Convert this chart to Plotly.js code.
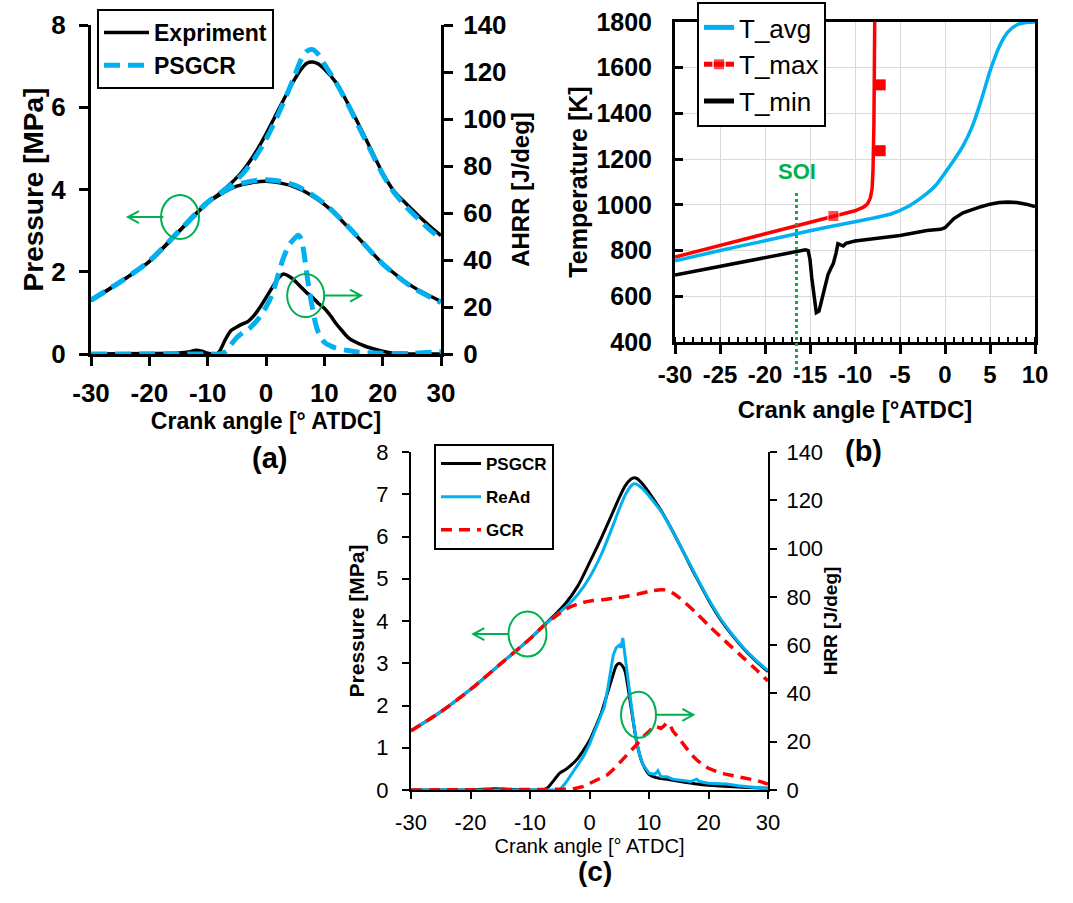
<!DOCTYPE html>
<html><head><meta charset="utf-8">
<script src="https://cdn.plot.ly/plotly-3.0.1.min.js"></script>
<style>html,body{margin:0;padding:0;background:#fff}#chart{width:1073px;height:903px}</style>
</head><body><div id="chart"></div>
<script>
// ---------- Panel (a): pressure [MPa] and AHRR [J/deg] ----------
const aMotAng  = [-30,-25,-20,-15,-10,-5,0,5,10,15,20,25,30];
const aExpMot  = [1.30,1.75,2.25,2.97,3.68,4.08,4.20,4.06,3.64,2.95,2.20,1.65,1.28];
const aSimMot  = [1.31,1.75,2.26,2.97,3.69,4.11,4.24,4.10,3.66,2.96,2.19,1.63,1.25];
const aFireAng = [-30,-25,-20,-15,-10,-8,-6,-4,-2,0,2,4,5,6,7,8,9,10,12,14,16,18,20,22,24,26,28,30];
const aExpFire = [1.30,1.75,2.25,2.97,3.68,3.90,4.15,4.45,4.85,5.35,5.90,6.45,6.70,6.92,7.07,7.10,7.05,6.93,6.60,6.10,5.55,4.97,4.40,3.95,3.66,3.38,3.12,2.88];
const aSimFire = [1.31,1.75,2.26,2.97,3.69,3.90,4.12,4.38,4.75,5.22,5.80,6.45,6.80,7.15,7.36,7.40,7.28,7.05,6.60,6.08,5.50,4.93,4.37,3.92,3.58,3.30,3.03,2.80];
const aExpHrrAng = [-30,-20,-15,-13,-12,-11,-10,-8.5,-8,-7,-6,-5,-4,-3,-2,-1,0,1,2,3,4,5,6,7,8,9,10,11,12,13,14,15,17,19,21,23,25,30];
const aExpHrr    = [0,0.2,0.4,1.0,1.6,1.2,0.3,0,1,6,10,11.5,12.8,14,16.5,20,24,28,32,34,33,31,28.5,26,24,21.5,19.5,16.5,13,10,7.2,5.5,3.3,1.8,0.6,0,0,0];
const aSimHrrAng = [-30,-10,-8,-7,-6,-5,-4,-3,-2,-1,0,1,2,3,4,5,5.5,6,6.5,7,7.5,8,8.5,9,10,11,12,14,16,20,25,30];
const aSimHrr    = [0,0,0,1,4,7,9,10.5,13,16,20,25,33,41,46.5,49.5,50.5,49,43,34,26,19,13,9,5,3.5,2.5,1.5,0.8,0.3,0.3,1];
const angTickVals = [-30,-20,-10,0,10,20,30];
const angTickText = ['-30','-20','-10','0','10','20','30'];

// ---------- Panel (b): temperatures [K] ----------
const bAvgAng = [-30,-25,-20,-15,-10,-8,-6,-4,-2,-1,0,1,2,3,4,5,6,7,8,9,10];
const bTavg   = [755,800,843,887,926,942,960,995,1050,1087,1140,1196,1258,1340,1455,1585,1690,1757,1788,1798,1800];
const bMaxAng = [-30,-20,-12.4,-10,-9,-8.6,-8.3,-8.1,-8.0,-7.9,-7.8];
const bTmax   = [772,874,951,974,991,1005,1030,1070,1150,1350,1850];
const bMaxMarkIdx = [2];
const bMaxMarkAng = [-7.2,-7.2];
const bMaxMarkT   = [1525,1237];
const bMinAng = [-30,-25,-20,-16,-15.5,-15.2,-15,-14.8,-14.5,-14.3,-14,-13.5,-13,-12.7,-12.4,-12.1,-11.9,-11.6,-11.3,-11,-10,-5,-2,-0.5,0,0.5,1,2,3,4,5,6,7,8,9,10];
const bTmin   = [693,730,768,798,803,800,760,680,580,528,535,610,695,720,745,790,830,825,820,832,842,866,888,893,900,920,940,965,980,992,1003,1010,1012,1010,1003,993];
const bTickVals = [-30,-25,-20,-15,-10,-5,0,5,10];
const bTickText = ['-30','-25','-20','-15','-10','-5','0','5','10'];
const bSOI = -16.5;

// ---------- Panel (c): pressure [MPa] and HRR [J/deg] ----------
const cPAng    = [-30,-25,-20,-15,-10,-8,-6,-4,-2,0,2,4,5,6,7,7.5,8,9,10,12,14,16,18,20,22,24,26,28,30];
const cPsgcrP  = [1.40,1.85,2.38,2.98,3.58,3.85,4.12,4.42,4.82,5.38,5.97,6.60,6.92,7.20,7.36,7.39,7.37,7.23,7.04,6.62,6.12,5.57,5.02,4.50,4.04,3.66,3.33,3.05,2.80];
const cReadP   = [1.40,1.85,2.38,2.98,3.58,3.85,4.10,4.33,4.62,5.03,5.58,6.28,6.65,6.98,7.20,7.25,7.23,7.12,6.96,6.60,6.12,5.58,5.04,4.52,4.06,3.68,3.35,3.07,2.82];
const cGcrAng  = [-30,-25,-20,-15,-10,-8,-6,-4,-2,0,2,4,6,8,10,12,13,14,15,16,18,20,22,24,26,28,30];
const cGcrP    = [1.40,1.85,2.38,2.98,3.58,3.85,4.08,4.28,4.40,4.47,4.50,4.54,4.58,4.63,4.70,4.74,4.73,4.66,4.56,4.44,4.18,3.90,3.63,3.37,3.11,2.85,2.58];
const cPsgcrHrrAng = [-30,-20,-16,-14,-10,-8,-7,-6,-5,-4,-3,-2,-1,0,1,2,3,4,4.5,5,5.5,6,6.5,7,7.5,8,8.5,9,10,11,12,14,16,18,20,25,30];
const cPsgcrHrr    = [0,0,0.5,0.3,0,0,1,4,7,8.5,10.5,13,16.5,20.5,26,32,40,48,51.5,52.5,51.5,49,42,34,26,19,14,10.5,6.5,5.2,4.8,4,3.2,2.5,2,1.2,0.7];
const cReadHrrAng  = [-30,-5,-4,-3,-2,-1,0,1,2,2.5,3,3.5,4,4.5,5,5.3,5.6,6,6.5,7,7.5,8,8.5,9,10,11,11.5,12,13,14,16,17,18,18.5,20,23,25,30];
const cReadHrr     = [0,0,3,6.5,10,14,19,25,31.5,34.5,41,48,56,59,60,59,63,55,45,35,26,19,14,10.5,7,6.5,8,5.5,5.5,4.5,4,3.5,4.5,3.5,2.8,2.5,1.8,0.5];
const cGcrHrrAng   = [-30,-5,-3,-1,0,1,2,3,4,5,6,7,8,9,10,11,11.5,12,12.5,13,13.5,14,15,16,17,18,19,20,22,24,26,28,30];
const cGcrHrr      = [0,0,0.3,1.5,2.8,3.8,5,6.3,8.5,11,13.5,16,19,22,24.5,26.5,26,25.5,26.5,27.8,27,24.5,21.5,18,15,12.5,10.5,9,7,6,5,4,2.5];

// ---------- styling ----------
const W = 1073, H = 903;
const FAM = '"Liberation Sans", Arial, Helvetica, sans-serif';
const BLUE = '#00B0F0', RED = '#FF0000', GREEN = '#00B050', BLACK = '#000000';
const fB = (s, c) => ({family: FAM, size: s, weight: 'bold', color: c || BLACK});
const fN = (s, c) => ({family: FAM, size: s, weight: 'normal', color: c || BLACK});

function ax(o) {
  return Object.assign({showline: true, linecolor: BLACK, linewidth: 3, ticks: 'outside', ticklen: 9,
    tickwidth: 3, tickcolor: BLACK, showgrid: false, zeroline: false, autorange: false, fixedrange: true}, o);
}

const layout = {
  width: W, height: H, margin: {l: 0, r: 0, t: 0, b: 0},
  paper_bgcolor: '#fff', plot_bgcolor: 'rgba(0,0,0,0)', showlegend: true,
  // panel a
  xaxis: ax({domain: [91/W, 441/W], range: [-30, 30], tickmode: 'array', tickvals: angTickVals, ticktext: angTickText,
    anchor: 'y', layer: 'below traces', tickfont: fB(26), ticklabelstandoff: 5,
    title: {text: 'Crank angle [° ATDC]', font: fB(23), standoff: 0}}),
  yaxis: ax({domain: [1-354/H, 1-25/H], range: [0, 8], dtick: 2, anchor: 'x', tickfont: fB(26),
    ticklabelstandoff: 8, title: {text: 'Pressure [MPa]', font: fB(28), standoff: 0}}),
  yaxis2: ax({overlaying: 'y', side: 'right', anchor: 'x', range: [0, 140], dtick: 20, tickfont: fB(26),
    ticklen: 9, ticklabelstandoff: 5, title: {text: 'AHRR [J/deg]', font: fB(24), standoff: 0}}),
  // panel b
  xaxis2: ax({domain: [675/W, 1035/W], range: [-30, 10], tickmode: 'array', tickvals: bTickVals, ticktext: bTickText,
    anchor: 'y3', mirror: true, showgrid: true, gridcolor: '#d9d9d9', gridwidth: 1,
    minor: {dtick: 1, tick0: 0, ticks: 'inside', ticklen: 5, tickwidth: 2, tickcolor: BLACK, showgrid: false},
    tickfont: fB(24), title: {text: 'Crank angle [°ATDC]', font: fB(24), standoff: 15}}),
  yaxis3: ax({domain: [1-342/H, 1-22/H], range: [400, 1800], dtick: 200, anchor: 'x2', mirror: true,
    ticks: 'inside', ticklen: 8, showgrid: true, gridcolor: '#d9d9d9', gridwidth: 1, tickfont: fB(25),
    ticklabelstandoff: 15, title: {text: 'Temperature [K]', font: fB(25), standoff: 2}}),
  // panel c
  xaxis3: ax({domain: [411/W, 768/W], range: [-30, 30], tickmode: 'array', tickvals: angTickVals, ticktext: angTickText,
    anchor: 'y4', layer: 'below traces', linewidth: 2, tickwidth: 2, ticklen: 7, tickfont: fN(22),
    ticklabelstandoff: 5, title: {text: 'Crank angle [° ATDC]', font: fN(20), standoff: 5}}),
  yaxis4: ax({domain: [1-790/H, 1-452/H], range: [0, 8], dtick: 1, anchor: 'x3', linewidth: 2, tickwidth: 2,
    ticklen: 7, tickfont: fN(22), ticklabelstandoff: 9, title: {text: 'Pressure [MPa]', font: fB(21), standoff: 6}}),
  yaxis5: ax({overlaying: 'y4', side: 'right', anchor: 'x3', range: [0, 140], dtick: 20, linewidth: 2,
    tickwidth: 2, ticklen: 7, tickfont: fN(22), ticklabelstandoff: 5, title: {text: 'HRR [J/deg]', font: fB(19), standoff: 2}}),
  legend: {x: 97/W, y: 1-9/H, xanchor: 'left', yanchor: 'top', bgcolor: '#fff', bordercolor: BLACK,
    borderwidth: 2, font: fB(23), traceorder: 'normal', tracegroupgap: 0, itemwidth: 45},
  legend2: {x: 697/W, y: 1-2/H, xanchor: 'left', yanchor: 'top', bgcolor: '#fff', bordercolor: BLACK,
    borderwidth: 2, font: fN(26), traceorder: 'normal', itemsizing: 'constant', tracegroupgap: 0},
  legend3: {x: 434/W, y: 1-444/H, xanchor: 'left', yanchor: 'top', bgcolor: '#fff', bordercolor: BLACK,
    borderwidth: 2, font: fB(17), traceorder: 'grouped', tracegroupgap: 8, itemwidth: 40},
  shapes: [], annotations: []
};

// ---------- decorations (green circles and arrows) ----------
function upx(a, size) { return (a.range[1]-a.range[0]) / ((a.domain[1]-a.domain[0]) * size); }
function addCircle(xr, yr, xa, ya, cx, cy, rxPx, ryPx) {
  const kx = upx(xa, W), ky = upx(ya, H);
  layout.shapes.push({type: 'circle', xref: xr, yref: yr, x0: cx - rxPx*kx, x1: cx + rxPx*kx,
    y0: cy - ryPx*ky, y1: cy + ryPx*ky, line: {color: GREEN, width: 2}});
}
function addArrow(xr, yr, xa, ya, x0, x1, y) {
  const kx = upx(xa, W), ky = upx(ya, H);
  const dir = x1 > x0 ? -1 : 1;
  const hx = x1 + dir*11*kx, hy = 6*ky;
  layout.shapes.push({type: 'path', xref: xr, yref: yr, line: {color: GREEN, width: 2},
    path: `M${x0},${y} L${x1},${y} M${hx},${y+hy} L${x1},${y} L${hx},${y-hy}`});
}
addCircle('x', 'y', layout.xaxis, layout.yaxis, -14.74, 3.33, 19, 22);
addArrow('x', 'y', layout.xaxis, layout.yaxis, -17.6, -23.66, 3.33);
addCircle('x', 'y', layout.xaxis, layout.yaxis, 6.8, 1.42, 18.5, 21.5);
addArrow('x', 'y', layout.xaxis, layout.yaxis, 9.94, 16.29, 1.42);
addCircle('x3', 'y4', layout.xaxis3, layout.yaxis4, -10.42, 3.69, 19, 22.5);
addArrow('x3', 'y4', layout.xaxis3, layout.yaxis4, -13.7, -19.53, 3.69);
addCircle('x3', 'y4', layout.xaxis3, layout.yaxis4, 8.24, 1.78, 17.5, 23);
addArrow('x3', 'y4', layout.xaxis3, layout.yaxis4, 11.18, 17.45, 1.78);

// SOI marker line
const y3 = layout.yaxis3;
const soiTop = y3.domain[0] + (1053 - y3.range[0]) / (y3.range[1]-y3.range[0]) * (y3.domain[1]-y3.domain[0]);
layout.shapes.push({type: 'line', xref: 'x2', yref: 'paper', x0: bSOI, x1: bSOI, y0: 1-370/H, y1: soiTop,
  line: {color: GREEN, width: 3, dash: 'dot'}});
layout.annotations.push({x: bSOI, y: 1145, xref: 'x2', yref: 'y3', text: 'SOI', showarrow: false, font: fB(22, GREEN)});
layout.annotations.push({x: 250/W, y: 1-458/H, xref: 'paper', yref: 'paper', text: '(a)', showarrow: false, font: fB(29)});
layout.annotations.push({x: 884/W, y: 1-451/H, xref: 'paper', yref: 'paper', text: '(b)', showarrow: false, font: fB(29)});
layout.annotations.push({x: 595/W, y: 1-889/H, xref: 'paper', yref: 'paper', text: '(c)', showarrow: false, font: fB(28)});

// ---------- traces ----------
const expLine = {color: BLACK, width: 3.5, shape: 'spline', smoothing: 0.8};
const simLine = {color: BLUE, width: 5, dash: '16px,8px', shape: 'spline', smoothing: 0.8};
const data = [
  {x: aMotAng, y: aExpMot, xaxis: 'x', yaxis: 'y', mode: 'lines', line: expLine, showlegend: false, legendgroup: 'e', cliponaxis: false},
  {x: aFireAng, y: aExpFire, xaxis: 'x', yaxis: 'y', mode: 'lines', line: expLine, name: 'Expriment', legendgroup: 'e', cliponaxis: false},
  {x: aExpHrrAng, y: aExpHrr, xaxis: 'x', yaxis: 'y2', mode: 'lines', line: expLine, showlegend: false, legendgroup: 'e', cliponaxis: false},
  {x: aMotAng, y: aSimMot, xaxis: 'x', yaxis: 'y', mode: 'lines', line: simLine, showlegend: false, legendgroup: 's', cliponaxis: false},
  {x: aFireAng, y: aSimFire, xaxis: 'x', yaxis: 'y', mode: 'lines', line: simLine, name: 'PSGCR', legendgroup: 's', cliponaxis: false},
  {x: aSimHrrAng, y: aSimHrr, xaxis: 'x', yaxis: 'y2', mode: 'lines', line: simLine, showlegend: false, legendgroup: 's', cliponaxis: false},

  {x: bAvgAng, y: bTavg, xaxis: 'x2', yaxis: 'y3', mode: 'lines', name: 'T_avg', legend: 'legend2',
    line: {color: BLUE, width: 3.5, shape: 'spline', smoothing: 0.6}},
  {x: bMaxAng, y: bTmax, xaxis: 'x2', yaxis: 'y3', mode: 'lines+markers', name: 'T_max', legend: 'legend2', legendgroup: 'tmax',
    line: {color: RED, width: 3.5},
    marker: {symbol: 'square', color: RED, size: bMaxAng.map((_, i) => bMaxMarkIdx.includes(i) ? 11 : 0)}},
  {x: bMaxMarkAng, y: bMaxMarkT, xaxis: 'x2', yaxis: 'y3', mode: 'markers', showlegend: false, legend: 'legend2', legendgroup: 'tmax',
    marker: {symbol: 'square', color: RED, size: 11}},
  {x: bMinAng, y: bTmin, xaxis: 'x2', yaxis: 'y3', mode: 'lines', name: 'T_min', legend: 'legend2',
    line: {color: BLACK, width: 3.5}},

  {x: cPAng, y: cPsgcrP, xaxis: 'x3', yaxis: 'y4', mode: 'lines', name: 'PSGCR', legend: 'legend3', legendgroup: 'cp',
    line: {color: BLACK, width: 3, shape: 'spline', smoothing: 0.8}, cliponaxis: false},
  {x: cPsgcrHrrAng, y: cPsgcrHrr, xaxis: 'x3', yaxis: 'y5', mode: 'lines', showlegend: false, legend: 'legend3', legendgroup: 'cp',
    line: {color: BLACK, width: 3, shape: 'spline', smoothing: 0.6}, cliponaxis: false},
  {x: cPAng, y: cReadP, xaxis: 'x3', yaxis: 'y4', mode: 'lines', name: 'ReAd', legend: 'legend3', legendgroup: 'cr',
    line: {color: BLUE, width: 3, shape: 'spline', smoothing: 0.8}, cliponaxis: false},
  {x: cReadHrrAng, y: cReadHrr, xaxis: 'x3', yaxis: 'y5', mode: 'lines', showlegend: false, legend: 'legend3', legendgroup: 'cr',
    line: {color: BLUE, width: 3}, cliponaxis: false},
  {x: cGcrAng, y: cGcrP, xaxis: 'x3', yaxis: 'y4', mode: 'lines', name: 'GCR', legend: 'legend3', legendgroup: 'cg',
    line: {color: RED, width: 3.5, dash: '11px,7px', shape: 'spline', smoothing: 0.8}, cliponaxis: false},
  {x: cGcrHrrAng, y: cGcrHrr, xaxis: 'x3', yaxis: 'y5', mode: 'lines', showlegend: false, legend: 'legend3', legendgroup: 'cg',
    line: {color: RED, width: 3.5, dash: '11px,7px'}, cliponaxis: false}
];

Plotly.newPlot('chart', data, layout, {staticPlot: true, displayModeBar: false});
</script></body></html>
